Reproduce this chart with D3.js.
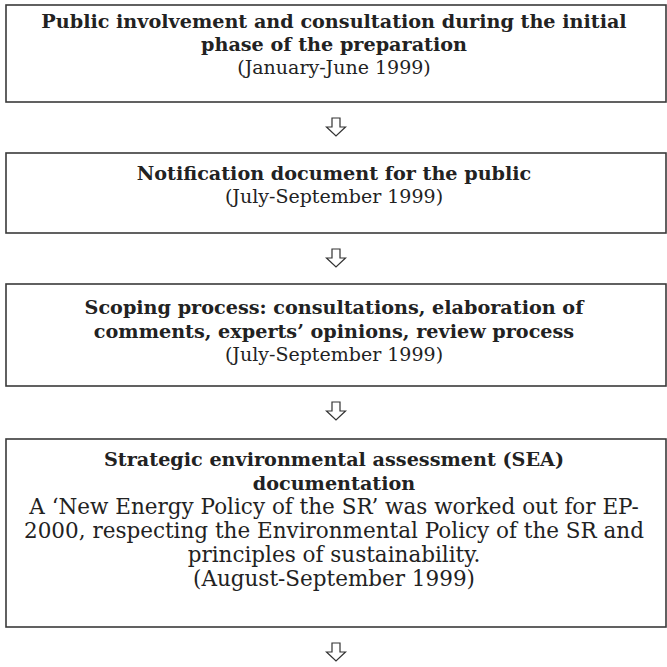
<!DOCTYPE html>
<html><head><meta charset="utf-8">
<script src="https://cdn.jsdelivr.net/npm/d3@7/dist/d3.min.js"></script>
<style>html,body{margin:0;padding:0;background:#fff;}</style>
</head><body>
<svg id="c" width="667" height="667"></svg>
<script>
// ---- data ----
const stepTitles = [
  ["Public involvement and consultation during the initial", "phase of the preparation"],
  ["Notification document for the public"],
  ["Scoping process: consultations, elaboration of", "comments, experts\u2019 opinions, review process"],
  ["Strategic environmental assessment (SEA)", "documentation"]
];
const stepDescriptions = [
  [],
  [],
  [],
  ["A \u2018New Energy Policy of the SR\u2019 was worked out for EP-", "2000, respecting the Environmental Policy of the SR and", "principles of sustainability."]
];
const stepDates = [
  "(January-June 1999)",
  "(July-September 1999)",
  "(July-September 1999)",
  "(August-September 1999)"
];

// ---- layout ----
const svg = d3.select("#c");
const boxX0 = 6, boxX1 = 666;
const boldSize = 19.2;
const regSizes = [19, 19, 19, 21.5];
const lineHeights = [23, 23, 23.5, 24];
const firstOffset = [23, 27, 30, 27];
const bottomPad = [28, 30, 25, 41];
const gaps = [51, 51, 53, 0];
const cx = d3.scaleLinear().domain([0, 1]).range([boxX0, boxX1]);

let y = 5;
const boxes = stepTitles.map((t, i) => {
  const lines = [];
  t.forEach(s => lines.push({text: s, bold: true}));
  stepDescriptions[i].forEach(s => lines.push({text: s, bold: false}));
  lines.push({text: stepDates[i], bold: false});
  const h = firstOffset[i] + (lines.length - 1) * lineHeights[i] + bottomPad[i];
  const b = {i, top: y, h, lines};
  y += h + gaps[i];
  return b;
});

const g = svg.append("g");
boxes.forEach(b => {
  g.append("rect")
    .attr("x", cx(0)).attr("y", b.top)
    .attr("width", cx(1) - cx(0)).attr("height", b.h)
    .attr("fill", "none").attr("stroke", "#3a3a3a").attr("stroke-width", 1.6);
  b.lines.forEach((l, k) => {
    g.append("text")
      .attr("x", cx(0.5) - 2)
      .attr("y", b.top + firstOffset[b.i] + k * lineHeights[b.i])
      .attr("text-anchor", "middle")
      .attr("font-family", "'DejaVu Serif', serif")
      .attr("font-size", l.bold ? boldSize : regSizes[b.i])
      .attr("font-weight", l.bold ? "bold" : "normal")
      .attr("fill", "#222")
      .text(l.text);
  });
  // arrow below box
  const ay = b.top + b.h + 16;
  const ax = cx(0.5);
  const sw = 4, hw = 9.5, sh = 9, th = 18;
  const pts = [[ax - sw, ay], [ax + sw, ay], [ax + sw, ay + sh], [ax + hw, ay + sh],
               [ax, ay + th], [ax - hw, ay + sh], [ax - sw, ay + sh]];
  g.append("path")
    .attr("d", d3.line()(pts) + "Z")
    .attr("fill", "#fff").attr("stroke", "#333").attr("stroke-width", 1.2)
    .attr("stroke-linejoin", "miter");
});
</script>
</body></html>
